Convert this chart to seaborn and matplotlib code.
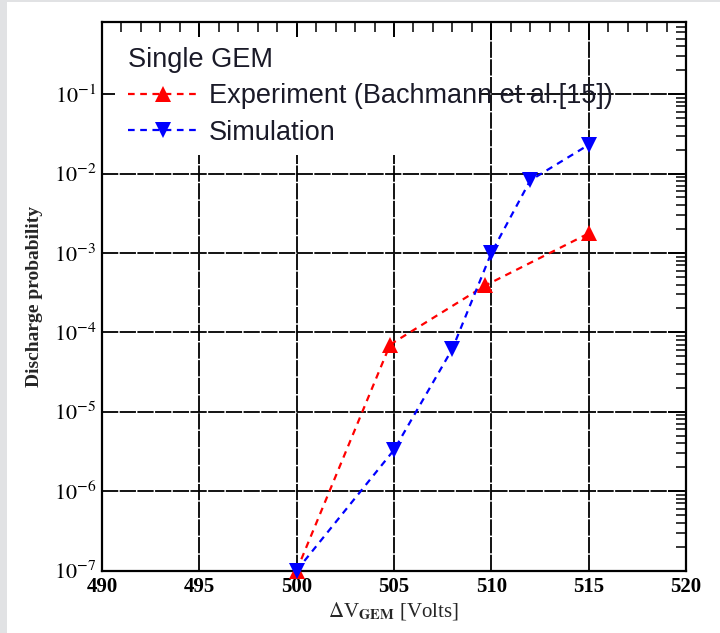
import numpy as np
import pandas as pd
import matplotlib
matplotlib.use("Agg")
import matplotlib.pyplot as plt
import matplotlib.ticker as mticker
from matplotlib.lines import Line2D
from matplotlib.patches import Rectangle
import seaborn as sns

# Discharge probability vs. GEM voltage
exp_voltage = [500.0, 504.8, 509.7, 515.0]
exp_prob = [1.0e-7, 7.0e-5, 3.9e-4, 1.76e-3]
sim_voltage = [500.0, 505.0, 508.0, 510.0, 512.0, 515.0]
sim_prob = [1.0e-7, 3.3e-6, 6.2e-5, 1.0e-3, 8.2e-3, 2.3e-2]

legend_title = "Single GEM"
exp_label = "Experiment (Bachmann et al.[15])"
sim_label = "Simulation"

x_ticks = [490, 495, 500, 505, 510, 515, 520]
y_decades = [-7, -6, -5, -4, -3, -2, -1]

df = pd.concat([
    pd.DataFrame({"V": exp_voltage, "P": exp_prob, "set": exp_label}),
    pd.DataFrame({"V": sim_voltage, "P": sim_prob, "set": sim_label}),
], ignore_index=True)

sns.set_theme(style="white")
plt.rcParams["mathtext.fontset"] = "stix"
plt.rcParams["font.family"] = ["Liberation Sans", "DejaVu Sans"]

W, H = 720, 633
fig = plt.figure(figsize=(7.2, 6.33), dpi=100)
fig.patch.set_facecolor("white")
# light frame strips on the left and top edges
fig.patches.append(Rectangle((0, 0), 7 / W, 1, transform=fig.transFigure,
                             facecolor="#e1e2e4", edgecolor="none", zorder=0))
fig.patches.append(Rectangle((0, 1 - 2 / H), 1, 2 / H, transform=fig.transFigure,
                             facecolor="#e1e2e4", edgecolor="none", zorder=0))

ax = fig.add_axes([102 / W, 1 - 570.5 / H, (686 - 102) / W, (570.5 - 22) / H])
ax.set_yscale("log")

line_style = (0, (3, 2.5))
styles = {exp_label: ("#ff0000", "^"), sim_label: ("#0000ff", "v")}
for name, (col, mk) in styles.items():
    sub = df[df["set"] == name]
    sns.lineplot(data=sub, x="V", y="P", ax=ax, color=col, marker=mk,
                 markersize=12, markeredgewidth=0, linewidth=1.6,
                 linestyle=line_style, estimator=None, sort=False,
                 legend=False, clip_on=False, zorder=4)

ax.set_xlim(490, 520)
ax.set_ylim(1e-7, 0.81)

ax.set_xticks(x_ticks)
ax.set_xticklabels([str(t) for t in x_ticks])
ax.xaxis.set_minor_locator(mticker.MultipleLocator(1))
ax.set_yticks([10.0 ** d for d in y_decades])
ax.set_yticklabels([rf"$10^{{{d}}}$" for d in y_decades])
ax.yaxis.set_minor_locator(mticker.LogLocator(base=10, subs=np.arange(2, 10), numticks=20))
ax.yaxis.set_minor_formatter(mticker.NullFormatter())

for lab in ax.get_xticklabels():
    lab.set_fontfamily("Liberation Serif")
    lab.set_fontweight("bold")
    lab.set_fontsize(15)
for lab in ax.get_yticklabels():
    lab.set_fontsize(16)

ax.tick_params(axis="both", which="major", direction="in", length=13, width=1.3,
               top=True, right=True, colors="black", pad=4)
ax.tick_params(axis="both", which="minor", direction="in", length=7, width=1.1,
               top=True, right=True, colors="black")
ax.tick_params(axis="x", which="major", pad=5)

for sp in ax.spines.values():
    sp.set_color("black")
    sp.set_linewidth(1.6)

ax.set_axisbelow(True)
ax.grid(True, which="major", color="black", linewidth=1.3, linestyle=(0, (9, 0.8)))

ax.set_xlabel(r"$\Delta$V$_{\mathbf{GEM}}$ [Volts]", fontfamily="Liberation Serif",
              fontsize=15, labelpad=2)
ax.set_ylabel("Discharge probability", fontfamily="Liberation Serif",
              fontweight="bold", fontsize=14, labelpad=8)

# white legend pad hiding the grid in the upper-left corner
ax.add_patch(Rectangle((115 / W, 1 - 155 / H), 365 / W, 118 / H,
                       transform=fig.transFigure, facecolor="white",
                       edgecolor="none", zorder=1))

handles = [
    Line2D([], [], color="#ff0000", marker="^", markersize=12, markeredgewidth=0,
           linewidth=1.6, linestyle=line_style),
    Line2D([], [], color="#0000ff", marker="v", markersize=12, markeredgewidth=0,
           linewidth=1.6, linestyle=line_style),
]
leg = ax.legend(handles, [exp_label, sim_label], title=legend_title,
                loc="upper left", bbox_to_anchor=(0.016, 0.984), frameon=False,
                fontsize=19.5, title_fontsize=19.5, handlelength=2.6,
                handletextpad=0.4, labelspacing=0.38, alignment="left",
                borderaxespad=0.2)
leg.get_title().set_color("#1a1a28")
for t in leg.get_texts():
    t.set_color("#1a1a28")
leg.set_zorder(6)

fig.savefig("out.png", dpi=100)
